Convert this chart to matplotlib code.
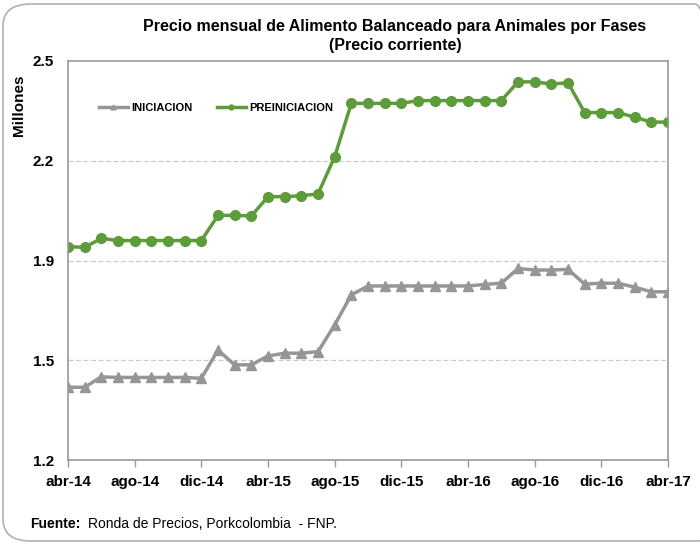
import numpy as np
import matplotlib
matplotlib.use('Agg')
import matplotlib.pyplot as plt
from matplotlib.patches import FancyBboxPatch

plt.rcParams['font.family'] = ['Liberation Sans Narrow', 'Liberation Sans', 'DejaVu Sans']

# monthly prices (millones de pesos), abr-14 .. abr-17
meses = ['abr-14', 'may-14', 'jun-14', 'jul-14', 'ago-14', 'sep-14', 'oct-14', 'nov-14',
         'dic-14', 'ene-15', 'feb-15', 'mar-15', 'abr-15', 'may-15', 'jun-15', 'jul-15',
         'ago-15', 'sep-15', 'oct-15', 'nov-15', 'dic-15', 'ene-16', 'feb-16', 'mar-16',
         'abr-16', 'may-16', 'jun-16', 'jul-16', 'ago-16', 'sep-16', 'oct-16', 'nov-16',
         'dic-16', 'ene-17', 'feb-17', 'mar-17', 'abr-17']

iniciacion = [1.437, 1.437, 1.471, 1.469, 1.469, 1.469, 1.469, 1.469,
              1.466, 1.558, 1.510, 1.510, 1.539, 1.548, 1.548, 1.553,
              1.640, 1.738, 1.767, 1.767, 1.767, 1.767, 1.767, 1.767,
              1.767, 1.772, 1.776, 1.824, 1.819, 1.819, 1.821, 1.773,
              1.776, 1.776, 1.763, 1.748, 1.748]

preiniciacion = [1.895, 1.893, 1.922, 1.915, 1.915, 1.915, 1.915, 1.915,
                 1.915, 1.997, 1.997, 1.995, 2.058, 2.058, 2.061, 2.067,
                 2.188, 2.362, 2.362, 2.362, 2.362, 2.371, 2.371, 2.371,
                 2.371, 2.371, 2.371, 2.432, 2.432, 2.425, 2.429, 2.332,
                 2.332, 2.332, 2.317, 2.301, 2.301]

y_ticks = [1.2, 1.525, 1.85, 2.175, 2.5]
y_labels = ['1.2', '1.5', '1.9', '2.2', '2.5']

gris = '#969696'
verde = '#5E9B3B'
borde = '#9a9a9a'

fig = plt.figure(figsize=(7, 5.45), dpi=100)
ax = fig.add_axes([68/700, 85/545, 600/700, 399/545])

x = np.arange(len(meses))
ax.plot(x, iniciacion, color=gris, lw=2.5, marker='^', ms=7, label='INICIACION')
ax.plot(x, preiniciacion, color=verde, lw=2.5, marker='o', ms=7, label='PREINICIACION')

ax.set_xlim(0, len(meses) - 1)
ax.set_ylim(1.2, 2.5)
ax.set_yticks(y_ticks)
ax.set_yticklabels(y_labels, fontsize=11, fontweight='bold')
ax.tick_params(axis='y', length=0, pad=10)
ax.set_xticks(x[::4])
ax.set_xticklabels(meses[::4], fontsize=11, fontweight='bold')
ax.tick_params(axis='x', length=5, color=borde, width=1, pad=6)

for g in y_ticks[1:-1]:
    ax.axhline(g, color='#cccccc', lw=0.9, ls=(0, (4, 2)), zorder=0)
for s in ax.spines.values():
    s.set_color(borde)
    s.set_linewidth(1.2)

leg = ax.legend(loc='upper left', bbox_to_anchor=(0.035, 0.92), ncol=2, frameon=False,
                markerscale=0.5, handlelength=2.6, handletextpad=0.3, columnspacing=2.2,
                prop={'weight': 'bold', 'size': 8})

fig.text(395/700, 1 - 36/545, 'Precio mensual de Alimento Balanceado para Animales por Fases\n(Precio corriente)',
         ha='center', va='center', fontsize=11.5, fontweight='bold', linespacing=1.3)
fig.text(19/700, 1 - 105/545, 'Millones', rotation=90, ha='center', va='center',
         fontsize=11, fontweight='bold')
fig.text(30/700, 1 - 524/545, 'Fuente:', ha='left', va='center', fontsize=10, fontweight='bold')
fig.text(88/700, 1 - 524/545, 'Ronda de Precios, Porkcolombia  - FNP.', ha='left', va='center', fontsize=10)

frame = FancyBboxPatch((3/700, 4/545), 720/700, 537/545, transform=fig.transFigure,
                       boxstyle='round,pad=0,rounding_size=0.04', fc='none', ec='#b0b0b0', lw=1.2)
fig.patches.append(frame)

fig.savefig('out.png', dpi=100)
